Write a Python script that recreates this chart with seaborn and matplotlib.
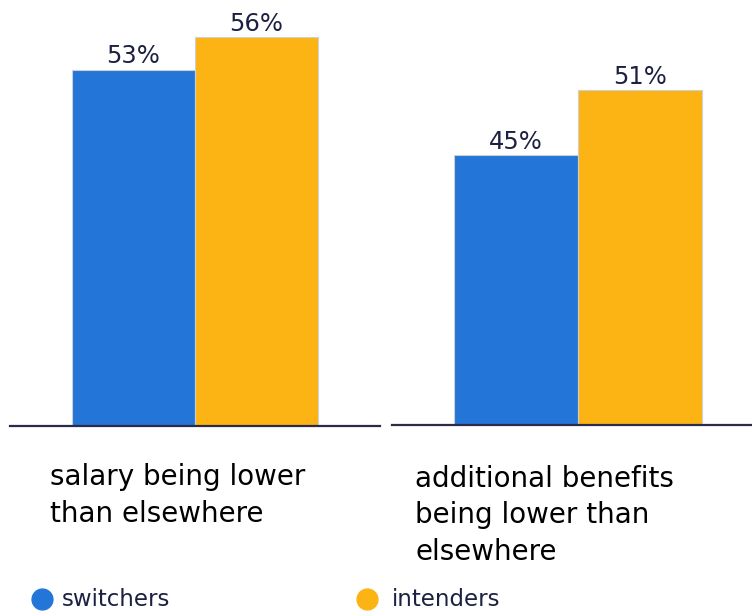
import matplotlib
matplotlib.use("Agg")
import matplotlib.pyplot as plt
from matplotlib.lines import Line2D
import seaborn as sns
import pandas as pd

categories = ["salary being lower\nthan elsewhere",
              "additional benefits\nbeing lower than\nelsewhere"]
groups = ["switchers", "intenders"]
switchers = [53, 45]
intenders = [56, 51]
colors = {"switchers": "#2376d8", "intenders": "#fcb415"}

navy = "#1c2142"
sns.set_theme(style="white")
plt.rcParams["font.family"] = ["DejaVu Sans"]

W, H = 752, 612
fig = plt.figure(figsize=(W / 100, H / 100), dpi=100)

# axes rectangles in pixels: (left, top, width, height)
boxes = [(10, 0, 370, 426), (392, 0, 372, 425)]
ymin = 20
px_per_unit = 10.8

for i, (cat, (l, t, w, h)) in enumerate(zip(categories, boxes)):
    ax = fig.add_axes([l / W, 1 - (t + h) / H, w / W, h / H])
    df = pd.DataFrame({"cat": [cat, cat], "group": groups,
                       "value": [switchers[i], intenders[i]]})
    sns.barplot(data=df, x="cat", y="value", hue="group", hue_order=groups,
                palette=colors, width=0.665, dodge=True, legend=False,
                edgecolor="#cfcfcf", linewidth=0.8, saturation=1, ax=ax)
    ax.set_xlim(-0.5, 0.5)
    ax.set_ylim(ymin, ymin + h / px_per_unit)
    for cont in ax.containers:
        ax.bar_label(cont, labels=[f"{v:.0f}%" for v in cont.datavalues],
                     padding=1, fontsize=17.5, color=navy)
    for s in ["top", "right", "left"]:
        ax.spines[s].set_visible(False)
    ax.spines["bottom"].set_color("#2a2b4a")
    ax.spines["bottom"].set_linewidth(1.6)
    ax.set_xticks([])
    ax.set_yticks([])
    ax.set_xlabel("")
    ax.set_ylabel("")

# category captions under each panel
fig.text(50 / W, 1 - 463 / H, categories[0], ha="left", va="top",
         fontsize=20, color="black", linespacing=1.42)
fig.text(415 / W, 1 - 465 / H, categories[1], ha="left", va="top",
         fontsize=20, color="black", linespacing=1.38)

# legend: coloured dots with group names
legend_pos = [(42, 62), (367, 392)]
for g, (cx, tx) in zip(groups, legend_pos):
    fig.add_artist(Line2D([cx / W], [1 - 599 / H], marker="o", linestyle="",
                          markersize=15, markerfacecolor=colors[g],
                          markeredgecolor=colors[g],
                          transform=fig.transFigure))
    fig.text(tx / W, 1 - 599 / H, g, ha="left", va="center",
             fontsize=16.5, color=navy)

fig.savefig("out.png", dpi=100, facecolor="white")
